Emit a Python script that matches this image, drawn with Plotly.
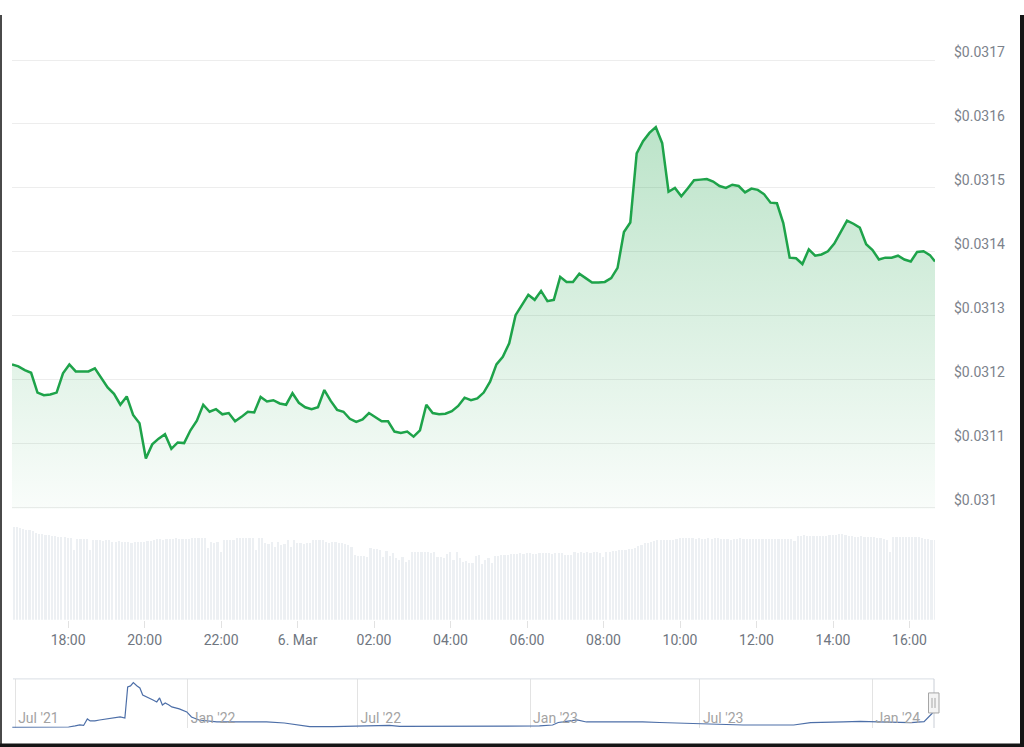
import plotly.graph_objects as go
from datetime import datetime, timedelta

# ---------------- data ----------------
price_start = "2024-03-05 16:32"      # 10-minute samples
price = [
    0.031224, 0.031221, 0.031215, 0.031211, 0.031180, 0.031176, 0.031177, 0.031180, 0.031210, 0.031224,
    0.031213, 0.031213, 0.031213, 0.031218, 0.031202, 0.031188, 0.031178, 0.031161, 0.031174, 0.031145,
    0.031132, 0.031077, 0.031099, 0.031108, 0.031115, 0.031092, 0.031102, 0.031101, 0.031121, 0.031136,
    0.031161, 0.031150, 0.031154, 0.031146, 0.031148, 0.031135, 0.031142, 0.031150, 0.031149, 0.031173,
    0.031166, 0.031168, 0.031163, 0.031161, 0.031179, 0.031164, 0.031157, 0.031154, 0.031157, 0.031184,
    0.031167, 0.031153, 0.031150, 0.031139, 0.031134, 0.031138, 0.031148, 0.031141, 0.031135, 0.031135,
    0.031119, 0.031117, 0.031119, 0.031111, 0.031121, 0.031161, 0.031148, 0.031146, 0.031147, 0.031151,
    0.031159, 0.031172, 0.031168, 0.031171, 0.031180, 0.031197, 0.031224, 0.031236, 0.031257, 0.031301,
    0.031316, 0.031333, 0.031325, 0.031339, 0.031323, 0.031325, 0.031361, 0.031353, 0.031353, 0.031366,
    0.031359, 0.031352, 0.031352, 0.031353, 0.031359, 0.031375, 0.031431, 0.031446, 0.031554, 0.031573,
    0.031586, 0.031595, 0.031570, 0.031494, 0.031500, 0.031487, 0.031499, 0.031512, 0.031513, 0.031514,
    0.031510, 0.031503, 0.031500, 0.031505, 0.031503, 0.031493, 0.031499, 0.031497, 0.031490, 0.031477,
    0.031476, 0.031445, 0.031391, 0.031390, 0.031381, 0.031404, 0.031394, 0.031396, 0.031401, 0.031413,
    0.031431, 0.031449, 0.031444, 0.031438, 0.031412, 0.031403, 0.031388, 0.031391, 0.031391, 0.031394,
    0.031388, 0.031385, 0.031400, 0.031401, 0.031395,
]
price_last_time = "2024-03-06 16:40"
price_last = 0.031385

volume_start = "2024-03-05 16:32"     # 5-minute volume bars (relative units)
volume = [
    9.3, 9.3, 9.2, 9.1, 9.0, 9.0, 8.9, 8.7, 8.6, 8.6,
    8.5, 8.5, 8.4, 8.4, 8.3, 8.3, 8.3, 8.2, 8.2, 7.0,
    8.1, 8.1, 8.1, 8.1, 7.0, 8.0, 8.0, 8.0, 7.9, 8.0,
    8.0, 7.8, 7.8, 7.9, 7.8, 7.8, 7.8, 7.7, 7.8, 7.8,
    7.8, 7.8, 7.9, 7.9, 8.0, 8.1, 8.1, 8.0, 8.1, 8.1,
    8.1, 8.2, 8.1, 8.1, 8.1, 8.1, 8.2, 8.2, 8.2, 8.2,
    8.2, 7.2, 7.8, 7.7, 7.8, 6.8, 8.0, 8.0, 8.0, 8.0,
    8.2, 8.2, 8.2, 8.2, 8.2, 8.2, 7.0, 8.2, 8.2, 7.7,
    7.6, 7.8, 7.3, 7.8, 7.5, 7.6, 8.0, 7.3, 8.0, 7.7,
    7.7, 7.6, 7.7, 7.7, 8.0, 8.0, 8.0, 8.0, 7.8, 7.7,
    7.8, 7.8, 7.7, 7.7, 7.6, 7.5, 7.3, 6.5, 6.4, 6.4,
    6.4, 6.3, 7.2, 7.1, 7.1, 7.0, 6.3, 6.9, 6.4, 6.7,
    6.2, 6.0, 6.3, 5.8, 6.0, 6.8, 6.8, 6.8, 6.8, 6.8,
    6.8, 6.7, 6.8, 6.3, 6.3, 6.2, 6.6, 6.8, 6.0, 6.8,
    6.2, 5.8, 5.9, 5.7, 5.7, 6.4, 6.5, 5.6, 6.0, 6.2,
    5.7, 6.4, 6.4, 6.5, 6.5, 6.5, 6.6, 6.6, 6.6, 6.7,
    6.6, 6.7, 6.7, 6.6, 6.6, 6.7, 6.7, 6.7, 6.7, 6.6,
    6.7, 6.7, 6.7, 6.5, 6.5, 6.5, 6.8, 6.7, 6.8, 6.7,
    6.8, 6.7, 6.8, 6.8, 6.7, 6.3, 6.8, 6.8, 6.9, 6.9,
    7.0, 7.0, 7.0, 7.1, 7.1, 7.2, 7.4, 7.5, 7.7, 7.7,
    7.8, 7.9, 8.0, 8.0, 8.0, 8.0, 8.0, 8.0, 8.1, 8.2,
    8.2, 8.2, 8.2, 8.2, 8.1, 8.2, 8.1, 8.1, 8.2, 8.1,
    8.2, 8.2, 8.1, 8.1, 8.1, 8.0, 8.1, 8.1, 8.2, 8.1,
    8.1, 8.1, 8.1, 8.1, 8.1, 8.1, 8.1, 8.1, 8.1, 8.1,
    8.1, 8.1, 8.1, 8.1, 8.1, 7.9, 8.4, 8.4, 8.5, 8.4,
    8.4, 8.4, 8.4, 8.4, 8.4, 8.4, 8.5, 8.5, 8.5, 8.6,
    8.6, 8.5, 8.4, 8.4, 8.3, 8.3, 8.4, 8.3, 8.3, 8.3,
    8.3, 8.2, 8.2, 8.1, 8.0, 6.8, 8.3, 8.3, 8.3, 8.3,
    8.3, 8.3, 8.3, 8.3, 8.3, 8.2, 8.1, 8.1, 8.0, 8.0,
]

nav_dates = [
    "2021-06-28", "2021-07-27", "2021-08-27", "2021-09-03", "2021-09-08", "2021-09-12",
    "2021-09-16", "2021-09-19", "2021-09-24", "2021-09-29", "2021-10-08", "2021-10-15",
    "2021-10-21", "2021-10-26", "2021-10-29", "2021-11-01", "2021-11-04", "2021-11-08",
    "2021-11-11", "2021-11-14", "2021-11-19", "2021-11-25", "2021-11-29", "2021-12-02",
    "2021-12-05", "2021-12-08", "2021-12-12", "2021-12-15", "2021-12-23", "2021-12-31",
    "2022-01-05", "2022-01-13", "2022-02-01", "2022-02-18", "2022-03-03", "2022-03-26",
    "2022-04-14", "2022-04-30", "2022-05-11", "2022-06-05", "2022-07-11", "2022-08-04",
    "2022-08-15", "2022-10-08", "2022-12-10", "2023-01-11", "2023-01-25", "2023-01-31",
    "2023-02-05", "2023-02-12", "2023-02-20", "2023-03-02", "2023-03-27", "2023-04-12",
    "2023-05-01", "2023-05-19", "2023-06-06", "2023-06-23", "2023-07-01", "2023-08-16",
    "2023-10-09", "2023-10-27", "2023-12-01", "2023-12-19", "2024-01-07", "2024-02-11",
    "2024-02-25", "2024-03-01", "2024-03-05",
]
nav_values = [
    0.0035, 0.0040, 0.0040, 0.0060, 0.0080, 0.0070,
    0.0197, 0.0158, 0.0158, 0.0177, 0.0197, 0.0216,
    0.0236, 0.0216, 0.0824, 0.0844, 0.0908, 0.0844,
    0.0804, 0.0667, 0.0628, 0.0569, 0.0530, 0.0608,
    0.0471, 0.0510, 0.0471, 0.0432, 0.0393, 0.0334,
    0.0236, 0.0177, 0.0138, 0.0138, 0.0148, 0.0138,
    0.0118, 0.0079, 0.0046, 0.0046, 0.0060, 0.0070,
    0.0050, 0.0050, 0.0046, 0.0060, 0.0079, 0.0128,
    0.0138, 0.0158, 0.0177, 0.0138, 0.0138, 0.0148,
    0.0138, 0.0128, 0.0118, 0.0099, 0.0109, 0.0079,
    0.0079, 0.0124, 0.0138, 0.0148, 0.0138, 0.0124,
    0.0144, 0.0242, 0.0314,
]

y_ticks = [0.0310, 0.0311, 0.0312, 0.0313, 0.0314, 0.0315, 0.0316, 0.0317]
y_tick_text = ["$0.031", "$0.0311", "$0.0312", "$0.0313", "$0.0314", "$0.0315", "$0.0316", "$0.0317"]

x_ticks = ["2024-03-05 18:00", "2024-03-05 20:00", "2024-03-05 22:00", "2024-03-06 00:00",
           "2024-03-06 02:00", "2024-03-06 04:00", "2024-03-06 06:00", "2024-03-06 08:00",
           "2024-03-06 10:00", "2024-03-06 12:00", "2024-03-06 14:00", "2024-03-06 16:00"]
x_tick_text = ["18:00", "20:00", "22:00", "6. Mar", "02:00", "04:00",
               "06:00", "08:00", "10:00", "12:00", "14:00", "16:00"]

nav_ticks = ["2021-07-01", "2022-01-01", "2022-07-01", "2023-01-01", "2023-07-01", "2024-01-01"]
nav_tick_text = ["Jul '21", "Jan '22", "Jul '22", "Jan '23", "Jul '23", "Jan '24"]

# ---------------- geometry helpers ----------------
W, H = 1024, 747
L, R = 12, 89
PW = W - L - R
TOP = 16          # the page shows a blank strip of about this height above the figure


def fx(px):
    return (px - L) / PW


def fy(py):
    # py: row in the 747-px reference; mapped into the visible part below the strip
    return 1 - (py - TOP) / (H - TOP)


PX_PER_UNIT = 63.86 / 0.0001          # price-axis pixels per dollar (reference)
Y_LO, Y_HI = 0.030998, 0.031702       # small pad so edge gridlines draw


def price_px(v):
    return 508 - (v - 0.0310) * PX_PER_UNIT


t0 = datetime.fromisoformat(price_start)
price_x = [t0 + timedelta(minutes=10 * i) for i in range(len(price))] + [datetime.fromisoformat(price_last_time)]
price_y = price + [price_last]

v0 = datetime.fromisoformat(volume_start)
vol_x = [v0 + timedelta(minutes=5 * i + 2.5) for i in range(len(volume))]

GREEN = "#1ea34a"
FONT = "Roboto"

fig = go.Figure()

fig.add_trace(go.Bar(
    x=vol_x, y=volume, xaxis="x", yaxis="y2",
    marker=dict(color="#edf0f3", line=dict(width=0)),
    width=3.4 * 60 * 1000, hoverinfo="skip",
))

fig.add_trace(go.Scatter(
    x=price_x, y=price_y, xaxis="x", yaxis="y",
    mode="lines", line=dict(color=GREEN, width=2.5),
    fill="tozeroy",
    fillgradient=dict(type="vertical", start=0.0310, stop=0.0316,
                      colorscale=[[0, "rgba(30,163,74,0.02)"], [1, "rgba(30,163,74,0.30)"]]),
    hoverinfo="skip",
))

fig.add_trace(go.Scatter(
    x=nav_dates, y=nav_values, xaxis="x3", yaxis="y3",
    mode="lines", line=dict(color="#4d6fa8", width=1.2), hoverinfo="skip",
))

fig.update_layout(
    width=W, height=H,
    margin=dict(l=L, r=R, t=0, b=0),
    paper_bgcolor="white", plot_bgcolor="rgba(0,0,0,0)",
    showlegend=False, bargap=0,
    font=dict(family=FONT, size=14, color="#6f7680"),
    xaxis=dict(
        type="date", domain=[0, 1], anchor="y2",
        range=["2024-03-05 16:32", "2024-03-06 16:40"],
        tickvals=x_ticks, ticktext=x_tick_text,
        ticks="outside", ticklen=7, tickcolor="#e2e2e2",
        showgrid=False, zeroline=False, showline=False,
        tickfont=dict(size=14, color="#6f7680", family=FONT),
    ),
    yaxis=dict(
        domain=[fy(price_px(Y_LO)), fy(price_px(Y_HI))], anchor="x", side="right",
        range=[Y_LO, Y_HI],
        tickvals=y_ticks, ticktext=y_tick_text,
        showgrid=True, gridcolor="#ededed", gridwidth=1,
        zeroline=False, showline=False, ticks="",
        ticklabelstandoff=18, ticklabelshift=-8,
        tickfont=dict(size=14, color="#7c828b", family=FONT),
    ),
    yaxis2=dict(
        domain=[fy(620), fy(520)], anchor="x", range=[0, 10],
        showgrid=False, zeroline=False, showticklabels=False, ticks="",
    ),
    xaxis3=dict(
        type="date", domain=[0, fx(934)], anchor="y3",
        range=["2021-06-27 16:00", "2024-03-06 14:00"],
        tickvals=nav_ticks, ticktext=nav_tick_text,
        ticklabelposition="inside right", ticks="",
        ticklabelstandoff=-4, ticklabelshift=3,
        showgrid=True, gridcolor="#e3e3e3", zeroline=False, showline=False,
        tickfont=dict(size=14, color="#a3a3a3", family=FONT),
    ),
    yaxis3=dict(
        domain=[fy(728), fy(679)], anchor="x3", range=[0.00204, 0.0981],
        showgrid=False, zeroline=False, showticklabels=False, ticks="",
    ),
)

shapes = [
    # navigator outline
    dict(type="line", xref="paper", yref="paper", x0=fx(13), x1=fx(934), y0=fy(679), y1=fy(679),
         line=dict(color="#d9dee4", width=1)),
    dict(type="line", xref="paper", yref="paper", x0=fx(934), x1=fx(934), y0=fy(679), y1=fy(728),
         line=dict(color="#c9ced6", width=1)),
    # navigator handle
    dict(type="rect", xref="paper", yref="paper", x0=fx(928.5), x1=fx(939), y0=fy(713), y1=fy(693),
         fillcolor="#f4f4f4", line=dict(color="#a6a6a6", width=1)),
    dict(type="line", xref="paper", yref="paper", x0=fx(932), x1=fx(932), y0=fy(698), y1=fy(708),
         line=dict(color="#a6a6a6", width=1)),
    dict(type="line", xref="paper", yref="paper", x0=fx(935), x1=fx(935), y0=fy(698), y1=fy(708),
         line=dict(color="#a6a6a6", width=1)),
    # screenshot frame
    dict(type="rect", xref="paper", yref="paper", x0=fx(0), x1=fx(2), y0=0, y1=1,
         fillcolor="#4a4a4a", line=dict(width=0)),
    dict(type="rect", xref="paper", yref="paper", x0=fx(1020), x1=fx(1024), y0=0, y1=1,
         fillcolor="#151515", line=dict(width=0)),
    dict(type="rect", xref="paper", yref="paper", x0=fx(0), x1=fx(1024), y0=0, y1=fy(743.5),
         fillcolor="#151515", line=dict(width=0)),
]
fig.update_layout(shapes=shapes)

fig.write_html("out.html")
